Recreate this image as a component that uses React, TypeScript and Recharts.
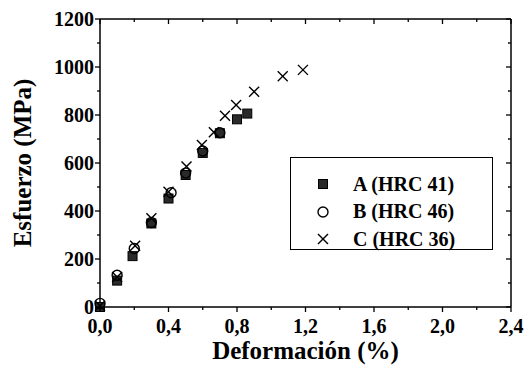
import React from "react"
import { ScatterChart, Scatter, XAxis, YAxis } from "recharts"

// Deformación (%) vs Esfuerzo (MPa)
const seriesA = [
  { x: 0, y: 0 },
  { x: 0.1, y: 110 },
  { x: 0.19, y: 212 },
  { x: 0.3, y: 348 },
  { x: 0.4, y: 452 },
  { x: 0.5, y: 550 },
  { x: 0.6, y: 642 },
  { x: 0.7, y: 724 },
  { x: 0.8, y: 782 },
  { x: 0.86, y: 806 }
]

const seriesB = [
  { x: 0, y: 15 },
  { x: 0.1, y: 132 },
  { x: 0.2, y: 244 },
  { x: 0.3, y: 352 },
  { x: 0.415, y: 476 },
  { x: 0.5, y: 558 },
  { x: 0.6, y: 650 },
  { x: 0.7, y: 726 }
]

const seriesC = [
  { x: 0, y: 5 },
  { x: 0.1, y: 125 },
  { x: 0.205, y: 255 },
  { x: 0.3, y: 370 },
  { x: 0.4, y: 480 },
  { x: 0.505, y: 585 },
  { x: 0.595, y: 675 },
  { x: 0.665, y: 728 },
  { x: 0.73, y: 797 },
  { x: 0.795, y: 842 },
  { x: 0.9, y: 897 },
  { x: 1.067, y: 961 },
  { x: 1.185, y: 988 }
]

const xTicks = [0, 0.2, 0.4, 0.6, 0.8, 1.0, 1.2, 1.4, 1.6, 1.8, 2.0, 2.2, 2.4]
const yTicks = [0, 100, 200, 300, 400, 500, 600, 700, 800, 900, 1000, 1100, 1200]

const legendItems = [
  { name: "A (HRC 41)", kind: "square" },
  { name: "B (HRC 46)", kind: "circle" },
  { name: "C (HRC 36)", kind: "cross" }
]

const FONT = "'Liberation Serif', 'DejaVu Serif', serif"

const isMajorX = (v: number) => Math.round(v * 10) % 4 === 0
const isMajorY = (v: number) => v % 200 === 0

function Marker({ kind, cx, cy }: { kind: string; cx: number; cy: number }) {
  if (kind === "square") {
    return <rect x={cx - 4.5} y={cy - 4.5} width={9} height={9} fill="#2a2a2a" stroke="#000" strokeWidth={1} />
  }
  if (kind === "circle") {
    return <circle cx={cx} cy={cy} r={5} fill="none" stroke="#000" strokeWidth={1.4} />
  }
  return (
    <g stroke="#000" strokeWidth={1.4}>
      <line x1={cx - 5} y1={cy - 5} x2={cx + 5} y2={cy + 5} />
      <line x1={cx - 5} y1={cy + 5} x2={cx + 5} y2={cy - 5} />
    </g>
  )
}

const shape = (kind: string) => (props: any) => <Marker kind={kind} cx={props.cx} cy={props.cy} />
const noShape = () => <g />

const BottomTick = (props: any) => {
  const { x, y, payload } = props
  const major = isMajorX(payload.value)
  return (
    <g>
      <line x1={x} y1={y} x2={x} y2={y + (major ? 5 : 3)} stroke="#000" strokeWidth={1.3} />
      {major && (
        <text x={x} y={y + 26} textAnchor="middle" fontFamily={FONT} fontWeight="bold" fontSize={20} fill="#000">
          {payload.value.toFixed(1).replace(".", ",")}
        </text>
      )}
    </g>
  )
}

const TopTick = (props: any) => {
  const { x, y, payload } = props
  const major = isMajorX(payload.value)
  return <line x1={x} y1={y} x2={x} y2={y + (major ? 5 : 3)} stroke="#000" strokeWidth={1.3} />
}

const LeftTick = (props: any) => {
  const { x, y, payload } = props
  const major = isMajorY(payload.value)
  return (
    <g>
      <line x1={x} y1={y} x2={x - (major ? 5 : 3)} y2={y} stroke="#000" strokeWidth={1.3} />
      {major && (
        <text x={x - 6} y={y + 7} textAnchor="end" fontFamily={FONT} fontWeight="bold" fontSize={20} fill="#000">
          {payload.value}
        </text>
      )}
    </g>
  )
}

const RightTick = (props: any) => {
  const { x, y, payload } = props
  const major = isMajorY(payload.value)
  return <line x1={x} y1={y} x2={x - (major ? 5 : 3)} y2={y} stroke="#000" strokeWidth={1.3} />
}

function LegendBox() {
  return (
    <div
      style={{
        position: "absolute",
        left: 290,
        top: 157,
        width: 201,
        height: 91,
        border: "1px solid #000",
        background: "#fff",
        fontFamily: FONT,
        fontWeight: "bold",
        fontSize: 20
      }}
    >
      {legendItems.map((it, i) => (
        <div
          key={it.name}
          style={{ position: "absolute", left: 0, top: 13 + i * 27.5, height: 26, display: "flex", alignItems: "center" }}
        >
          <svg width={62} height={26}>
            <Marker kind={it.kind} cx={32} cy={13} />
          </svg>
          <span>{it.name}</span>
        </div>
      ))}
    </div>
  )
}

export default function App() {
  const axisLine = { stroke: "#000", strokeWidth: 1.5 }
  return (
    <div style={{ position: "absolute", left: 0, top: 0, width: 526, height: 373, background: "#fff" }}>
      <ScatterChart width={526} height={373} margin={{ top: 18, right: 14, bottom: 0, left: 0 }}>
        <XAxis
          xAxisId="b"
          type="number"
          dataKey="x"
          domain={[0, 2.4]}
          ticks={xTicks}
          interval={0}
          tick={BottomTick}
          tickLine={false}
          tickSize={0}
          tickMargin={0}
          axisLine={axisLine}
          height={66}
          label={{
            value: "Deformación (%)",
            position: "insideBottom",
            offset: 14,
            style: { fontFamily: FONT, fontWeight: "bold", fontSize: 25, fill: "#000" }
          }}
        />
        <XAxis
          xAxisId="t"
          orientation="top"
          type="number"
          dataKey="x"
          domain={[0, 2.4]}
          ticks={xTicks}
          interval={0}
          tick={TopTick}
          tickLine={false}
          tickSize={0}
          tickMargin={0}
          axisLine={axisLine}
          height={1}
        />
        <YAxis
          yAxisId="l"
          type="number"
          dataKey="y"
          domain={[0, 1200]}
          ticks={yTicks}
          interval={0}
          tick={LeftTick}
          tickLine={false}
          tickSize={0}
          tickMargin={0}
          axisLine={axisLine}
          width={100}
          label={{
            value: "Esfuerzo (MPa)",
            angle: -90,
            position: "insideLeft",
            offset: 22,
            style: { fontFamily: FONT, fontWeight: "bold", fontSize: 25, fill: "#000", textAnchor: "middle" }
          }}
        />
        <YAxis
          yAxisId="r"
          orientation="right"
          type="number"
          dataKey="y"
          domain={[0, 1200]}
          ticks={yTicks}
          interval={0}
          tick={RightTick}
          tickLine={false}
          tickSize={0}
          tickMargin={0}
          axisLine={axisLine}
          width={1}
        />
        <Scatter data={seriesC} xAxisId="t" yAxisId="r" shape={noShape} isAnimationActive={false} legendType="none" />
        <Scatter name="A (HRC 41)" data={seriesA} xAxisId="b" yAxisId="l" shape={shape("square")} isAnimationActive={false} />
        <Scatter name="B (HRC 46)" data={seriesB} xAxisId="b" yAxisId="l" shape={shape("circle")} isAnimationActive={false} />
        <Scatter name="C (HRC 36)" data={seriesC} xAxisId="b" yAxisId="l" shape={shape("cross")} isAnimationActive={false} />
      </ScatterChart>
      <LegendBox />
    </div>
  )
}
